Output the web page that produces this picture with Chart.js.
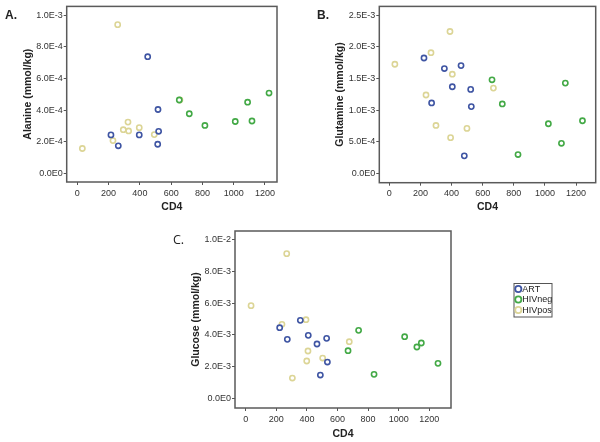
<!DOCTYPE html>
<html><head><meta charset="utf-8">
<script src="https://cdn.jsdelivr.net/npm/chart.js@4.4.1/dist/chart.umd.min.js"></script>
<style>
html,body{margin:0;padding:0;background:#fff;}
#wrap{position:relative;width:600px;height:442px;overflow:hidden;background:#fff;}
canvas{position:absolute;}
.lbl{position:absolute;font-family:"Liberation Sans",Arial,sans-serif;font-weight:bold;font-size:12px;line-height:14px;color:#222;}
</style></head><body>
<div id="wrap">
<canvas id="cA" width="290" height="215" style="left:0;top:0;width:290px;height:215px"></canvas>
<canvas id="cB" width="300" height="215" style="left:300px;top:0;width:300px;height:215px"></canvas>
<canvas id="cC" width="450" height="227" style="left:150px;top:215px;width:450px;height:227px"></canvas>
<div class="lbl" style="left:5px;top:8px">A.</div>
<div class="lbl" style="left:317px;top:8px">B.</div>
<div class="lbl" style="left:173px;top:233px;font-weight:normal;font-size:12.5px;font-family:'Open Sans',sans-serif;">C.</div>
</div>
<script>
// ---------- data ----------
const seriesNames = ['ART', 'HIVneg', 'HIVpos'];
const xTicks = [0, 200, 400, 600, 800, 1000, 1200];
const xTickLabels = ['0', '200', '400', '600', '800', '1000', '1200'];

// Panel A: Alanine
const artCD4_A = [215, 262, 450, 396, 514, 516, 520];
const artAla = [2.43e-4, 1.74e-4, 7.38e-4, 2.43e-4, 1.84e-4, 4.04e-4, 2.66e-4];
const negCD4_A = [652, 716, 816, 1010, 1089, 1117, 1226];
const negAla = [4.64e-4, 3.77e-4, 3.03e-4, 3.28e-4, 4.50e-4, 3.31e-4, 5.08e-4];
const posCD4_A = [32, 228, 258, 294, 324, 328, 396, 492, 656];
const posAla = [1.57e-4, 2.07e-4, 9.41e-4, 2.76e-4, 3.24e-4, 2.68e-4, 2.89e-4, 2.45e-4, 4.64e-4];
const yTicksA = [0, 2e-4, 4e-4, 6e-4, 8e-4, 1e-3];
const yTickLabelsA = ['0.0E0', '2.0E-4', '4.0E-4', '6.0E-4', '8.0E-4', '1.0E-3'];

// Panel B: Glutamine
const artCD4_B = [223, 354, 461, 405, 272, 523, 527, 482];
const artGln = [1.825e-3, 1.658e-3, 1.705e-3, 1.370e-3, 1.114e-3, 1.328e-3, 1.056e-3, 0.277e-3];
const negCD4_B = [660, 726, 827, 1022, 1106, 1131, 1241];
const negGln = [1.480e-3, 1.098e-3, 0.298e-3, 0.785e-3, 0.476e-3, 1.428e-3, 0.832e-3];
const posCD4_B = [36, 268, 390, 405, 236, 300, 394, 499, 669];
const posGln = [1.726e-3, 1.909e-3, 2.244e-3, 1.569e-3, 1.240e-3, 0.758e-3, 0.565e-3, 0.711e-3, 1.349e-3];
const yTicksB = [0, 5e-4, 1e-3, 1.5e-3, 2e-3, 2.5e-3];
const yTickLabelsB = ['0.0E0', '5.0E-4', '1.0E-3', '1.5E-3', '2.0E-3', '2.5E-3'];

// Panel C: Glucose
const artCD4_C = [222, 357, 272, 409, 466, 529, 534, 488];
const artGlc = [4.456e-3, 4.916e-3, 3.724e-3, 3.975e-3, 3.431e-3, 3.787e-3, 2.301e-3, 1.485e-3];
const negCD4_C = [669, 738, 839, 1039, 1119, 1148, 1257];
const negGlc = [3.013e-3, 4.289e-3, 1.527e-3, 3.891e-3, 3.243e-3, 3.494e-3, 2.218e-3];
const posCD4_C = [35, 268, 237, 394, 407, 399, 305, 503, 677];
const posGlc = [5.837e-3, 9.100e-3, 4.665e-3, 4.958e-3, 2.992e-3, 2.364e-3, 1.297e-3, 2.552e-3, 3.577e-3];
const yTicksC = [0, 2e-3, 4e-3, 6e-3, 8e-3, 1e-2];
const yTickLabelsC = ['0.0E0', '2.0E-3', '4.0E-3', '6.0E-3', '8.0E-3', '1.0E-2'];

// ---------- styling ----------
const colors = { ART: '#3f55a3', HIVneg: '#43a946', HIVpos: '#dcd596' };
Chart.defaults.font.family = "'Liberation Sans', Arial, sans-serif";
Chart.defaults.color = '#333';

function pts(xs, ys) { return xs.map((x, i) => ({ x: x, y: ys[i] })); }
function ds(name, xs, ys) {
  return {
    label: name, data: pts(xs, ys),
    borderColor: colors[name], backgroundColor: '#ffffff',
    pointRadius: 2.6, pointBorderWidth: 1.6, pointHoverRadius: 2.6,
    showLine: false
  };
}

const framePlugin = {
  id: 'frame',
  afterDraw(chart) {
    const a = chart.chartArea, ctx = chart.ctx;
    ctx.save();
    ctx.strokeStyle = '#5a5a5a';
    ctx.lineWidth = 1.5;
    ctx.strokeRect(a.left, a.top, a.right - a.left, a.bottom - a.top);
    ctx.restore();
  }
};

const legendPlugin = {
  id: 'boxLegend',
  afterDraw(chart) {
    const ctx = chart.ctx;
    const bx = 364, by = 68.5, bw = 38, bh = 33.5;
    ctx.save();
    ctx.fillStyle = '#fff';
    ctx.fillRect(bx, by, bw, bh);
    ctx.strokeStyle = '#555';
    ctx.lineWidth = 1;
    ctx.strokeRect(bx, by, bw, bh);
    ctx.font = "9px 'Liberation Sans', Arial, sans-serif";
    ctx.textBaseline = 'middle';
    ctx.textAlign = 'left';
    chart.data.datasets.forEach((d, i) => {
      const cy = by + 5.5 + i * 10.5;
      ctx.beginPath();
      ctx.arc(bx + 4.3, cy, 3.1, 0, Math.PI * 2);
      ctx.fillStyle = '#fff';
      ctx.fill();
      ctx.strokeStyle = d.borderColor;
      ctx.lineWidth = 1.8;
      ctx.stroke();
      ctx.fillStyle = '#222';
      ctx.fillText(d.label, bx + 8.3, cy + 0.5);
    });
    ctx.restore();
  }
};

function makePanel(id, datasets, opt, extraPlugins) {
  return new Chart(document.getElementById(id), {
    type: 'scatter',
    data: { datasets: datasets },
    options: {
      responsive: false, animation: false, events: [],
      layout: { padding: opt.pad },
      plugins: { legend: { display: false }, tooltip: { enabled: false } },
      scales: {
        x: {
          type: 'linear', min: opt.xmin, max: opt.xmax,
          afterBuildTicks: s => { s.ticks = xTicks.map(v => ({ value: v })); },
          afterFit: s => { s.height = opt.xH; },
          ticks: { font: { size: 9 }, color: '#333', padding: opt.xTickPad, maxRotation: 0, autoSkip: false,
                   callback: (v, i) => xTickLabels[i] },
          grid: { drawOnChartArea: false, drawTicks: true, tickLength: 3, color: '#555', lineWidth: 1 },
          border: { display: false },
          title: { display: true, text: 'CD4', font: { size: 10.5, weight: 'bold' }, color: '#222',
                   padding: { top: 0, bottom: opt.xTitlePad } }
        },
        y: {
          type: 'linear', min: opt.ymin, max: opt.ymax,
          afterBuildTicks: s => { s.ticks = opt.yTicks.map(v => ({ value: v })); },
          afterFit: s => { s.width = opt.yW; },
          ticks: { font: { size: 9 }, color: '#333', padding: 1, autoSkip: false,
                   callback: (v, i) => opt.yLabels[i] },
          grid: { drawOnChartArea: false, drawTicks: true, tickLength: 3, color: '#555', lineWidth: 1 },
          border: { display: false },
          title: { display: true, text: opt.yTitle, font: { size: 10.5, weight: 'bold' }, color: '#222',
                   padding: { top: opt.yTitlePad, bottom: 0 } }
        }
      }
    },
    plugins: [framePlugin].concat(extraPlugins || [])
  });
}

makePanel('cA', [
  ds('ART', artCD4_A, artAla), ds('HIVneg', negCD4_A, negAla), ds('HIVpos', posCD4_A, posAla)
], {
  pad: { left: 0, top: 5, right: 13, bottom: 0 }, yW: 66.7, xH: 33,
  xmin: -68, xmax: 1277, ymin: -0.055e-3, ymax: 1.0565e-3,
  yTicks: yTicksA, yLabels: yTickLabelsA, yTitle: 'Alanine (mmol/kg)',
  yTitlePad: 21.7, xTitlePad: 1.2, xTickPad: 3
});

makePanel('cB', [
  ds('ART', artCD4_B, artGln), ds('HIVneg', negCD4_B, negGln), ds('HIVpos', posCD4_B, posGln)
], {
  pad: { left: 0, top: 5, right: 4.3, bottom: 0 }, yW: 79.3, xH: 32.3,
  xmin: -64, xmax: 1326, ymin: -0.1475e-3, ymax: 2.641e-3,
  yTicks: yTicksB, yLabels: yTickLabelsB, yTitle: 'Glutamine (mmol/kg)',
  yTitlePad: 34, xTitlePad: 1.2, xTickPad: 2.5
});

makePanel('cC', [
  ds('ART', artCD4_C, artGlc), ds('HIVneg', negCD4_C, negGlc), ds('HIVpos', posCD4_C, posGlc)
], {
  pad: { left: 0, top: 16, right: 149, bottom: 0 }, yW: 85, xH: 34,
  xmin: -70, xmax: 1342, ymin: -0.583e-3, ymax: 1.0521e-2,
  yTicks: yTicksC, yLabels: yTickLabelsC, yTitle: 'Glucose (mmol/kg)',
  yTitlePad: 39.5, xTitlePad: 1.7, xTickPad: 3
}, [legendPlugin]);
</script>
</body></html>
